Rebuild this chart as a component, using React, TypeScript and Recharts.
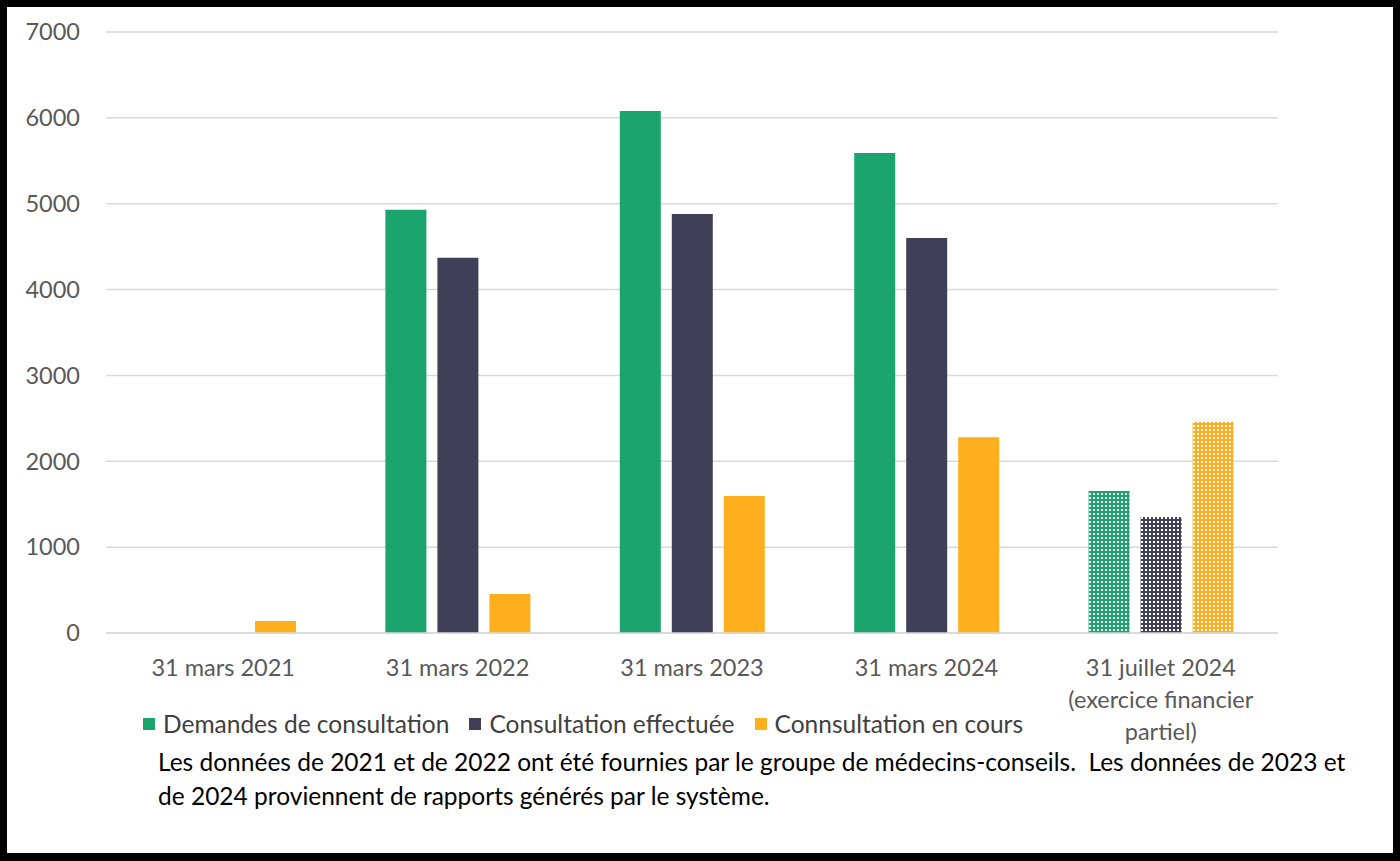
import React from 'react';
import { BarChart, Bar, XAxis, YAxis, CartesianGrid, Legend, Cell } from 'recharts';

const categories = ['31 mars 2021', '31 mars 2022', '31 mars 2023', '31 mars 2024', '31 juillet 2024 (exercice financier partiel)'];
const categoryLines = [
  ['31 mars 2021'],
  ['31 mars 2022'],
  ['31 mars 2023'],
  ['31 mars 2024'],
  ['31 juillet 2024', '(exercice financier', 'partiel)'],
];
const demandes = [0, 4930, 6080, 5590, 1655];
const effectuees = [0, 4370, 4880, 4600, 1350];
const enCours = [140, 455, 1595, 2280, 2460];
const seriesNames = ['Demandes de consultation', 'Consultation effectuée', 'Connsultation en cours'];
const yTicks = [0, 1000, 2000, 3000, 4000, 5000, 6000, 7000];
const footnoteLines = [
  'Les données de 2021 et de 2022 ont été fournies par le groupe de médecins-conseils.  Les données de 2023 et',
  'de 2024 proviennent de rapports générés par le système.',
];

const COLORS = ['#1CA46F', '#3F4057', '#FDAF1E'];
const PAT_IDS = ['patGreen', 'patDark', 'patOrange'];
const FONT = 'Lato, "Open Sans", sans-serif';

const data = categories.map((c, i) => ({
  name: c,
  idx: i,
  demandes: demandes[i],
  effectuees: effectuees[i],
  enCours: enCours[i],
}));

const XTick = (props: any) => {
  const { x, payload } = props;
  const lines = categoryLines[payload.index] || [payload.value];
  return (
    <g>
      {lines.map((l, i) => (
        <text key={i} x={x} y={676 + i * 32} textAnchor="middle" fill="#595959" fontSize={23.5} fontFamily={FONT}>
          {l}
        </text>
      ))}
    </g>
  );
};

const LegendContent = () => (
  <div style={{ display: 'flex', alignItems: 'center', fontFamily: FONT, fontSize: 24.5, color: '#404040', whiteSpace: 'nowrap' }}>
    {seriesNames.map((n, i) => (
      <div key={n} style={{ display: 'flex', alignItems: 'center', marginRight: 20 }}>
        <span style={{ display: 'inline-block', width: 12, height: 12, background: COLORS[i], marginRight: 8 }} />
        <span>{n}</span>
      </div>
    ))}
  </div>
);

const keys = ['demandes', 'effectuees', 'enCours'];

export default function App() {
  return (
    <div style={{ position: 'absolute', left: 0, top: 0, width: 1400, height: 861, background: '#fff', overflow: 'hidden' }}>
      <BarChart
        width={1400}
        height={861}
        data={data}
        margin={{ top: 32, right: 122, left: 0, bottom: 168 }}
        barSize={41}
        barGap={11}
      >
        <defs>
          {COLORS.map((c, i) => (
            <pattern key={i} id={PAT_IDS[i]} width={4} height={4} patternUnits="userSpaceOnUse">
              <rect x={0} y={0} width={4} height={4} fill={c} />
              <rect x={1} y={1} width={2} height={2} fill="#fff" />
            </pattern>
          ))}
        </defs>
        <CartesianGrid vertical={false} stroke="#D9D9D9" strokeWidth={1.5} />
        <XAxis
          dataKey="name"
          height={60}
          tick={<XTick />}
          tickLine={false}
          axisLine={{ stroke: '#D9D9D9', strokeWidth: 1.5 }}
          interval={0}
        />
        <YAxis
          width={106}
          domain={[0, 7000]}
          ticks={yTicks}
          tickLine={false}
          axisLine={false}
          tickSize={0}
          tickMargin={26}
          tick={{ fill: '#595959', fontSize: 23.5, fontFamily: FONT }}
        />
        <Legend
          layout="vertical"
          align="center"
          verticalAlign="middle"
          content={<LegendContent />}
          wrapperStyle={{ position: 'absolute', top: 709, left: 143, width: 1100, height: 32 }}
        />
        {keys.map((k, si) => (
          <Bar key={k} dataKey={k} name={seriesNames[si]} fill={COLORS[si]} isAnimationActive={false}>
            {data.map((d, i) => (
              <Cell key={i} fill={i === data.length - 1 ? `url(#${PAT_IDS[si]})` : COLORS[si]} />
            ))}
          </Bar>
        ))}
      </BarChart>
      <div style={{ position: 'absolute', left: 158, top: 745, fontFamily: FONT, fontSize: 24.5, color: '#000', lineHeight: '34px', whiteSpace: 'pre' }}>
        {footnoteLines.map((l, i) => (
          <div key={i}>{l}</div>
        ))}
      </div>
      <div style={{ position: 'absolute', left: 0, top: 0, width: 1400, height: 861, boxSizing: 'border-box', border: '7px solid #000', borderBottomWidth: 8, pointerEvents: 'none' }} />
    </div>
  );
}
